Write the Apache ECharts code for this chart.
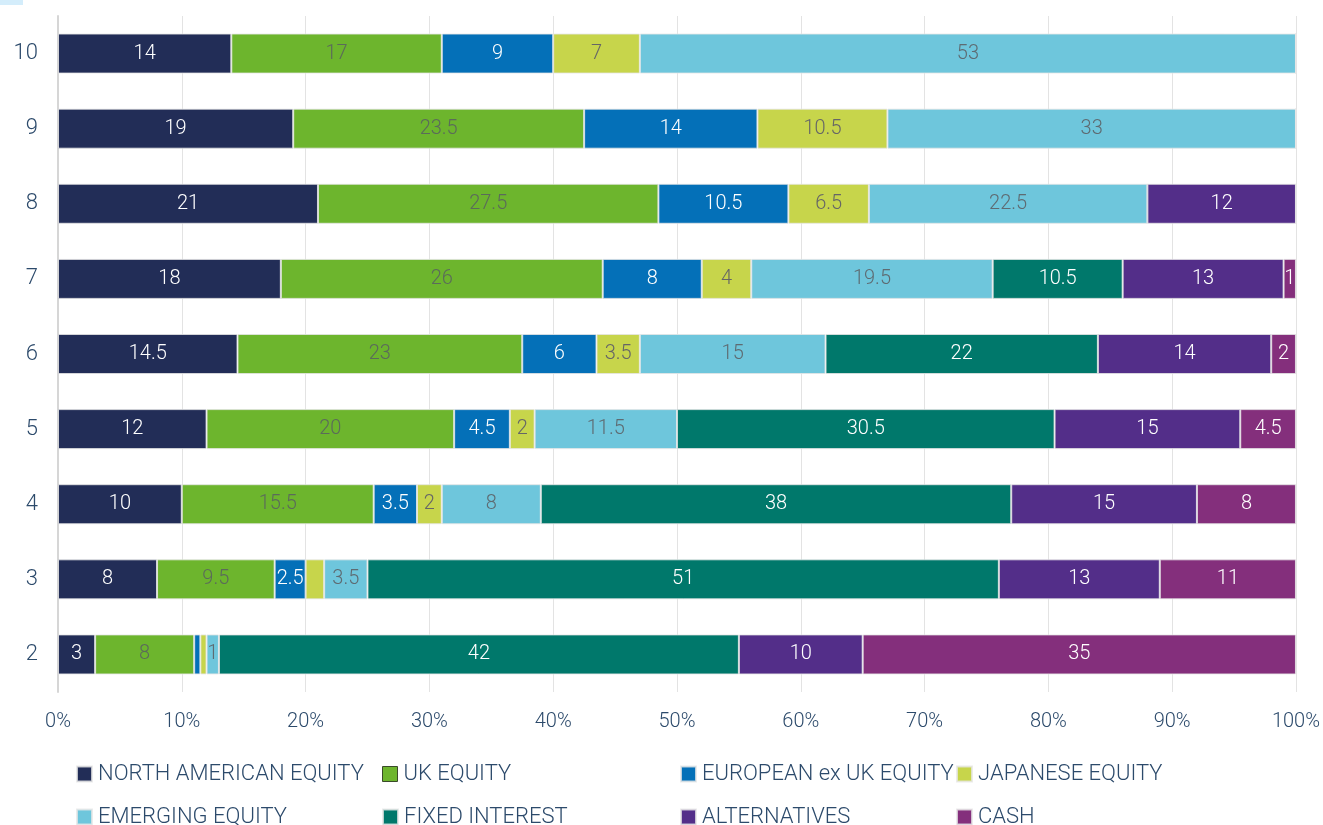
<!DOCTYPE html>
<html>
<head>
<meta charset="utf-8">
<script src="https://cdn.jsdelivr.net/npm/echarts@6/dist/echarts.min.js"></script>
<style>
  html, body { margin: 0; padding: 0; background: #fff; }
  #chart { width: 1323px; height: 825px; }
</style>
</head>
<body>
<div id="chart"></div>
<script>
const categories = ['2', '3', '4', '5', '6', '7', '8', '9', '10'];

const northAmerican = [3, 8, 10, 12, 14.5, 18, 21, 19, 14];
const ukEquity      = [8, 9.5, 15.5, 20, 23, 26, 27.5, 23.5, 17];
const european      = [0.5, 2.5, 3.5, 4.5, 6, 8, 10.5, 14, 9];
const japanese      = [0.5, 1.5, 2, 2, 3.5, 4, 6.5, 10.5, 7];
const emerging      = [1, 3.5, 8, 11.5, 15, 19.5, 22.5, 33, 53];
const fixedInterest = [42, 51, 38, 30.5, 22, 10.5, 0, 0, 0];
const alternatives  = [10, 13, 15, 15, 14, 13, 12, 0, 0];
const cash          = [35, 11, 8, 4.5, 2, 1, 0, 0, 0];

const seriesNames = ['NORTH AMERICAN EQUITY', 'UK EQUITY', 'EUROPEAN ex UK EQUITY', 'JAPANESE EQUITY',
  'EMERGING EQUITY', 'FIXED INTEREST', 'ALTERNATIVES', 'CASH'];
const seriesData = [northAmerican, ukEquity, european, japanese, emerging, fixedInterest, alternatives, cash];
const colors = ['#222d57', '#6db52d', '#0470b8', '#c7d54b', '#6ec6dc', '#00786b', '#532e89', '#842f7c'];
// dark text on the light segments
const labelColors = ['#fff', '#5b6b5a', '#fff', '#666', '#5e6b72', '#fff', '#fff', '#fff'];

const textColor = '#2c4a6b';
const font = 'Roboto';

const chart = echarts.init(document.getElementById('chart'));

const series = seriesNames.map((name, i) => ({
  name: name,
  type: 'bar',
  stack: 'total',
  barWidth: 40,
  data: seriesData[i],
  itemStyle: { color: colors[i], borderColor: 'rgba(230,230,230,0.8)', borderWidth: 1 },
  label: {
    show: true,
    position: 'inside',
    color: labelColors[i],
    fontFamily: font,
    fontWeight: 300,
    fontSize: 20,
    formatter: p => {
      const v = p.value;
      if (v < 1) return '';
      if (v < 2 && v % 1 !== 0) return '';
      return String(v);
    }
  }
}));

// legend laid out in 4 fixed columns, 2 rows
const legendCols = [76, 382, 680, 956];
const legendRows = [763, 806];
const legends = seriesNames.map((name, i) => ({
  data: [{
    name: name,
    itemStyle: i === 1 ? { borderColor: '#3a4a2a', borderWidth: 1 } : undefined
  }],
  left: legendCols[i % 4],
  top: legendRows[Math.floor(i / 4)],
  padding: 0,
  icon: 'rect',
  itemWidth: 15,
  itemHeight: 15,
  selectedMode: false,
  textStyle: { color: textColor, fontFamily: font, fontWeight: 300, fontSize: 22, padding: [0, 0, 0, 1] }
}));

const option = {
  animation: false,
  color: colors,
  graphic: [{
    type: 'rect',
    shape: { x: 0, y: 0, width: 23, height: 5 },
    style: { fill: '#d4edfb' }
  }],
  grid: { left: 58, right: 27, top: 16, bottom: 133, containLabel: false },
  legend: legends,
  xAxis: {
    type: 'value',
    min: 0,
    max: 100,
    interval: 10,
    axisLine: { show: false },
    axisTick: { show: false },
    splitLine: { show: true, lineStyle: { color: '#e3e3e3', width: 1 } },
    axisLabel: {
      formatter: '{value}%',
      color: textColor,
      fontFamily: font,
      fontWeight: 300,
      fontSize: 20,
      margin: 20
    }
  },
  yAxis: {
    type: 'category',
    data: categories,
    axisLine: { show: true, lineStyle: { color: '#d6d6d6', width: 2 } },
    axisTick: { show: false },
    axisLabel: {
      color: textColor,
      fontFamily: font,
      fontWeight: 300,
      fontSize: 22,
      margin: 20
    }
  },
  series: series
};

chart.setOption(option);
</script>
</body>
</html>
